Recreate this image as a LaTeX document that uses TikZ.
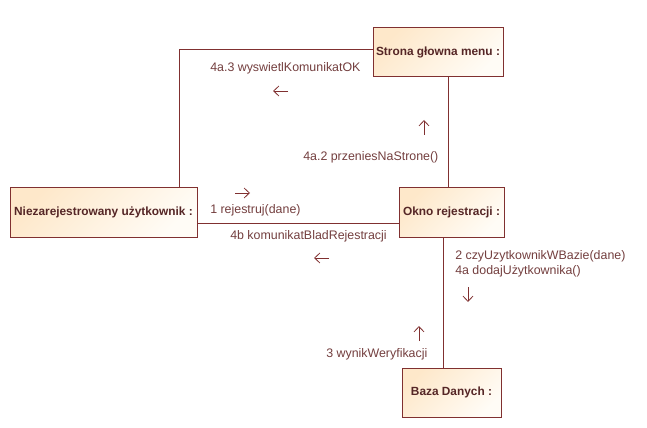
\documentclass[tikz,border=0pt]{standalone}
\usepackage{fontspec}
\setmainfont{Liberation Sans}
\usetikzlibrary{arrows.meta}
\definecolor{edge}{RGB}{128,48,48}
\definecolor{lbl}{RGB}{115,62,62}
\definecolor{ttl}{RGB}{85,38,38}
\definecolor{fillA}{RGB}{254,232,202}
\definecolor{fillB}{RGB}{255,252,246}
\tikzset{
  obj/.style={draw=edge, line width=0.75pt, top color=fillA, bottom color=fillB, shading angle=45,
    minimum height=36.75pt, inner sep=0pt, font=\bfseries\fontsize{8.9pt}{10pt}\selectfont, text=ttl},
  lab/.style={anchor=west, inner sep=0pt, font=\fontsize{9.3pt}{10.5pt}\selectfont, text=lbl},
  link/.style={draw=edge, line width=0.75pt},
  msg/.style={draw=edge, line width=0.6pt, -{Straight Barb[length=4pt,width=7.5pt]}}
}
\begin{document}
\begin{tikzpicture}[x=0.75pt,y=-0.75pt]
\useasboundingbox (0,0) rectangle (647,428);
\node[obj, minimum width=97.5pt] (str) at (438,52.5) {Strona głowna menu :};
\node[obj, minimum width=140.25pt] (nie) at (103.5,212.5) {Niezarejestrowany użytkownik :};
\node[obj, minimum width=78.75pt] (okn) at (451.5,212.5) {Okno rejestracji :};
\node[obj, minimum width=74.25pt] (baz) at (451.5,392.5) {Baza Danych :};
\coordinate (k1) at (179,50);
\coordinate (k2) at (448,0);
\coordinate (k3) at (0,223);
\coordinate (k4) at (443,0);
\draw[link] (nie.north -| k1) |- (str.west |- k1);
\draw[link] (str.south -| k2) -- (okn.north -| k2);
\draw[link] (nie.east |- k3) -- (okn.west |- k3);
\draw[link] (okn.south -| k4) -- (baz.north -| k4);
% message arrows
\coordinate (a1s) at (288,91); \coordinate (a1e) at (273,91);
\coordinate (a2s) at (424,135); \coordinate (a2e) at (424,120);
\coordinate (a3s) at (235,193); \coordinate (a3e) at (250,193);
\coordinate (a4s) at (329,258); \coordinate (a4e) at (314,258);
\coordinate (a5s) at (468,287); \coordinate (a5e) at (468,302);
\coordinate (a6s) at (419,341); \coordinate (a6e) at (419,326);
\draw[msg] (a1s) -- (a1e);
\draw[msg] (a2s) -- (a2e);
\draw[msg] (a3s) -- (a3e);
\draw[msg] (a4s) -- (a4e);
\draw[msg] (a5s) -- (a5e);
\draw[msg] (a6s) -- (a6e);
% labels
\node[lab] (l1) at (210,68) {4a.3 wyswietlKomunikatOK};
\node[lab] (l2) at (303,157) {4a.2 przeniesNaStrone()};
\node[lab] (l3) at (210,210) {1 rejestruj(dane)};
\node[lab] (l4) at (230,236) {4b komunikatBladRejestracji};
\node[lab] (l5) at (455,256) {2 czyUzytkownikWBazie(dane)};
\node[lab] (l6) at (455,271) {4a dodajUżytkownika()};
\node[lab] (l7) at (326,354) {3 wynikWeryfikacji};
\end{tikzpicture}
\end{document}
